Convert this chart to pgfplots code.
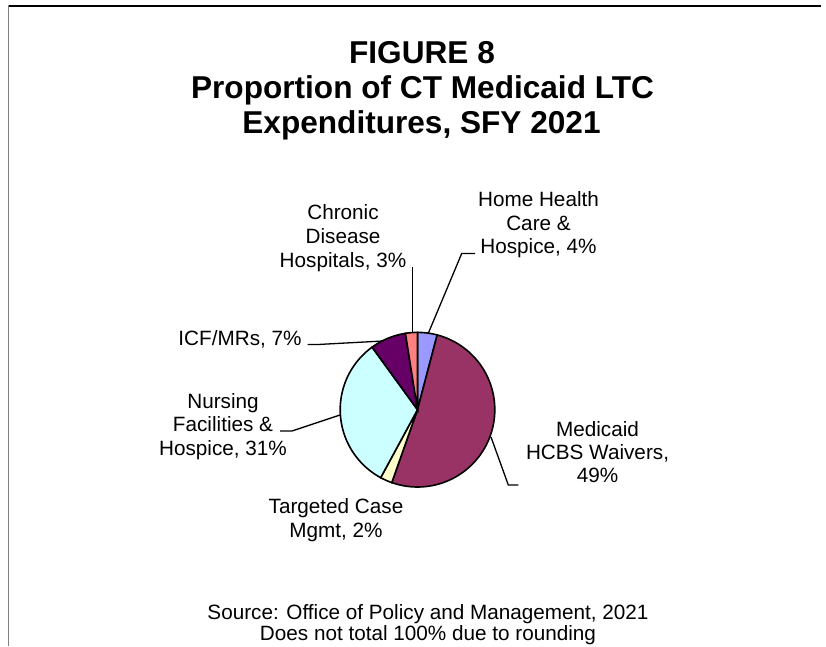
\documentclass[border=0pt]{standalone}
\usepackage{fontspec}
\setmainfont{Liberation Sans}
\usepackage{pgfplots}
\pgfplotsset{compat=1.18}
\definecolor{hh}{HTML}{9999FF}
\definecolor{hcbs}{HTML}{993366}
\definecolor{tcm}{HTML}{FFFFCC}
\definecolor{nf}{HTML}{CCFFFF}
\definecolor{icf}{HTML}{660066}
\definecolor{cdh}{HTML}{FF8080}
\definecolor{framegray}{HTML}{808080}
% drawn shares of the pie (percent of the circle, clockwise from the top)
\def\sHH{4.1}\def\sHCBS{51.3}\def\sTCM{2.5}\def\sNF{32.1}\def\sICF{7.5}\def\sCDH{2.5}
\def\R{77.3}
\begin{document}
\begin{tikzpicture}
\useasboundingbox (0pt,0pt) rectangle (826pt,646pt);
\fill[white] (0pt,0pt) rectangle (826pt,646pt);
\draw[black, line width=1.1pt] (8pt,640pt) -- (821pt,640pt);
\draw[framegray, line width=1.3pt] (8.5pt,640.5pt) -- (8.5pt,0pt);
\pgfmathsetmacro\aA{90}
\pgfmathsetmacro\aB{\aA-3.6*\sHH}
\pgfmathsetmacro\aC{\aB-3.6*\sHCBS}
\pgfmathsetmacro\aD{\aC-3.6*\sTCM}
\pgfmathsetmacro\aE{\aD-3.6*\sNF}
\pgfmathsetmacro\aF{\aE-3.6*\sICF}
\pgfmathsetmacro\aG{\aF-3.6*\sCDH}
\begin{axis}[at={(417.5pt,236.3pt)}, anchor=center, scale only axis,
  width=154.6pt, height=154.6pt, xmin=-77.3, xmax=77.3, ymin=-77.3, ymax=77.3,
  hide axis, clip=false]
\addplot[draw=black, line width=1.6pt, fill=hh, domain=\aB:\aA, samples=20, variable=\t] ({\R*cos(\t)},{\R*sin(\t)}) -- (axis cs:0,0) -- cycle;
\addplot[draw=black, line width=1.6pt, fill=hcbs, domain=\aC:\aB, samples=120, variable=\t] ({\R*cos(\t)},{\R*sin(\t)}) -- (axis cs:0,0) -- cycle;
\addplot[draw=black, line width=1.6pt, fill=tcm, domain=\aD:\aC, samples=15, variable=\t] ({\R*cos(\t)},{\R*sin(\t)}) -- (axis cs:0,0) -- cycle;
\addplot[draw=black, line width=1.6pt, fill=nf, domain=\aE:\aD, samples=80, variable=\t] ({\R*cos(\t)},{\R*sin(\t)}) -- (axis cs:0,0) -- cycle;
\addplot[draw=black, line width=1.6pt, fill=icf, domain=\aF:\aE, samples=25, variable=\t] ({\R*cos(\t)},{\R*sin(\t)}) -- (axis cs:0,0) -- cycle;
\addplot[draw=black, line width=1.6pt, fill=cdh, domain=\aG:\aF, samples=15, variable=\t] ({\R*cos(\t)},{\R*sin(\t)}) -- (axis cs:0,0) -- cycle;
% leader lines
\addplot[black, line width=1.3pt, mark=none] coordinates {(57.5,156.2) (44.2,156.2) (10.8,76.4)};
\addplot[black, line width=1.3pt, mark=none] coordinates {(-4.8,142.4) (-4.8,77.2)};
\addplot[black, line width=1.3pt, mark=none] coordinates {(-110,65.2) (-99.5,65.2) (-34.5,68.7)};
\addplot[black, line width=1.3pt, mark=none] coordinates {(-137.5,-21.3) (-125.5,-21.3) (-77.5,-5.3)};
\addplot[black, line width=1.3pt, mark=none] coordinates {(73.5,-27.3) (90.8,-75.3) (100.8,-75.3)};
\end{axis}
% title
\begin{scope}[every node/.style={anchor=base, inner sep=0pt, font=\fontsize{31.6}{35}\selectfont\bfseries}]
\node at (422pt,582.5pt) {FIGURE 8};
\node at (422.5pt,547pt) {Proportion of CT Medicaid LTC};
\node at (421.5pt,512.5pt) {Expenditures, SFY 2021};
\end{scope}
% slice labels and notes
\begin{scope}[every node/.style={anchor=base, inner sep=0pt, font=\fontsize{20.7}{24}\selectfont}]
\node at (343pt,426.7pt) {Chronic};
\node at (343pt,402.7pt) {Disease};
\node at (343pt,378.7pt) {Hospitals, 3\%};
\node at (538.5pt,439.3pt) {Home Health};
\node at (538.5pt,415.3pt) {Care \&};
\node at (538.5pt,392pt) {Hospice, 4\%};
\node at (240pt,301pt) {ICF/MRs, 7\%};
\node at (223pt,237.7pt) {Nursing};
\node at (223pt,214.3pt) {Facilities \&};
\node at (223pt,191pt) {Hospice, 31\%};
\node at (597.5pt,210pt) {Medicaid};
\node at (597.5pt,186.7pt) {HCBS Waivers,};
\node at (597.5pt,163.3pt) {49\%};
\node at (336pt,132.7pt) {Targeted Case};
\node at (336pt,108.7pt) {Mgmt, 2\%};
\node at (428pt,26.7pt) {Source:  Office of Policy and Management, 2021};
\node at (428pt,5.3pt) {Does not total 100\% due to rounding};
\end{scope}
\end{tikzpicture}
\end{document}
